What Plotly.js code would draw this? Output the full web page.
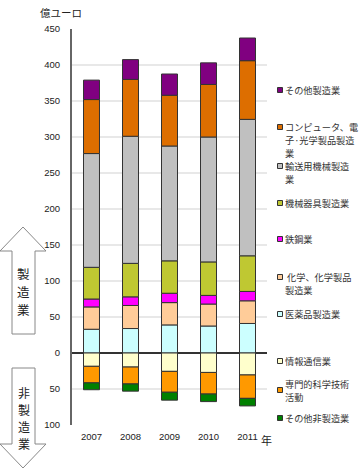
<!DOCTYPE html>
<html><head><meta charset="utf-8">
<script src="https://cdn.plot.ly/plotly-3.0.1.min.js"></script>
<style>html,body{margin:0;padding:0;background:#fff}#chart{width:360px;height:474px}</style>
</head><body><div id="chart"></div>
<script>
const years = ['2007','2008','2009','2010','2011'];
// 製造業 (positive, bottom to top)
const pharma    = [33, 34, 39, 37.5, 41];
const chemical  = [31, 32, 31, 30.5, 31.5];
const steel     = [11, 12, 13, 12, 13];
const machinery = [44, 46.5, 45, 46.5, 49.5];
const transport = [158, 176.5, 159.5, 173.5, 189.5];
const computer  = [75, 79, 70.5, 73, 81.5];
const otherMfg  = [27, 27.5, 29.5, 30, 31.5];
// 非製造業 (negative, top to bottom)
const infoComm  = [-18.5, -19.5, -25.5, -27, -30.5];
const profSci   = [-23, -23.5, -29, -30, -32.5];
const otherNon  = [-9.5, -10, -11, -10.5, -10.5];

const seriesNames = ['医薬品製造業','化学、化学製品製造業','鉄鋼業','機械器具製造業','輸送用機械製造業','コンピュータ、電子·光学製品製造業','その他製造業','情報通信業','専門的科学技術活動','その他非製造業'];
const seriesData = [pharma, chemical, steel, machinery, transport, computer, otherMfg, infoComm, profSci, otherNon];
const seriesColors = ['#CCFFFF','#FFCC99','#FF00FF','#BFC832','#C0C0C0','#DD6E00','#800080','#FFFFCC','#FF9900','#008000'];

const yTickVals = [-100,-50,0,50,100,150,200,250,300,350,400,450];
const yTickText = ['100','50','0','50','100','150','200','250','300','350','400','450'];

// legend labels, split into display lines (top to bottom)
const legLabels = [['その他製造業'],['コンピュータ、電','子·光学製品製造','業'],['輸送用機械製造','業'],['機械器具製造業'],['鉄鋼業'],[' 化学、化学製品','製造業'],['医薬品製造業'],['情報通信業'],['専門的科学技術','活動'],['その他非製造業']];
const legIdx = [6,5,4,3,2,1,0,7,8,9];
const mfgChars = ['製','造','業'];
const nonMfgChars = ['非','製','造','業'];

const FONT = 'Liberation Sans, Arial, "Noto Sans CJK JP", sans-serif';
const JFONT = '"Noto Sans CJK JP", "Liberation Sans", sans-serif';

const traces = seriesData.map((d,i)=>({
  type:'bar', x: years, y: d, name: seriesNames[i],
  marker:{color: seriesColors[i], line:{color:'#333', width:1}},
  width: 0.41, hoverinfo:'none'
}));

// pixel -> paper helpers (plot area: x 72..267, y 29..425)
const PL=72, PR=267, PT=29, PB=425;
const px = p => (p-PL)/(PR-PL);
const py = p => (PB-p)/(PB-PT);

const legY = [90,127,166,203,239,277,314,361,384,418];
const legMarkY = [90,127,166,203,239,277,314,361,390,418];
const LINE = 13;

const annotations = [];
const shapes = [];
legIdx.forEach((si,k)=>{
  legLabels[k].forEach((ln,j)=>{
    annotations.push({xref:'paper',yref:'paper',x:px(283.5),y:py(legY[k]+j*LINE),xanchor:'left',yanchor:'middle',
      text:ln,showarrow:false,align:'left',font:{family:JFONT,size:9.2,color:'#333'},borderpad:0});
  });
  shapes.push({type:'rect',xref:'paper',yref:'paper',x0:px(277.5),x1:px(282.5),y0:py(legMarkY[k]+2.5),y1:py(legMarkY[k]-2.5),
    fillcolor:seriesColors[si],line:{color:'#333',width:1}});
});

// left arrows
const P = (pts)=> 'M ' + pts.map(p=>px(p[0])+','+py(p[1])).join(' L ') + ' Z';
shapes.push({type:'path',xref:'paper',yref:'paper',path:P([[23,227],[46,251],[35,251],[35,334],[12,334],[12,251],[0,251]]),
  fillcolor:'#fff',line:{color:'#888',width:1}});
shapes.push({type:'path',xref:'paper',yref:'paper',path:P([[12,368],[35,368],[35,444],[46,444],[23,468],[0,444],[12,444]]),
  fillcolor:'#fff',line:{color:'#888',width:1}});

mfgChars.forEach((c,j)=>annotations.push({xref:'paper',yref:'paper',x:px(23.5),y:py(273+j*18),xanchor:'center',yanchor:'middle',
  text:c,showarrow:false,borderpad:0,font:{family:JFONT,size:12.5,color:'#222'}}));
nonMfgChars.forEach((c,j)=>annotations.push({xref:'paper',yref:'paper',x:px(23.5),y:py(392+j*17),xanchor:'center',yanchor:'middle',
  text:c,showarrow:false,borderpad:0,font:{family:JFONT,size:12,color:'#222'}}));

annotations.push({xref:'paper',yref:'paper',x:px(61),y:py(13),xanchor:'center',yanchor:'middle',
  text:'億ユーロ',showarrow:false,font:{family:JFONT,size:10.5,color:'#222'}});
annotations.push({xref:'paper',yref:'paper',x:px(266),y:py(440),xanchor:'center',yanchor:'middle',
  text:'年',showarrow:false,font:{family:JFONT,size:11,color:'#222'}});

const layout = {
  width:360, height:474, margin:{l:PL, r:360-PR, t:PT, b:474-PB},
  paper_bgcolor:'#fff', plot_bgcolor:'#fff',
  barmode:'relative', bargap:0.59, showlegend:false,
  font:{family:FONT, size:10, color:'#222'},
  xaxis:{type:'category', showgrid:false, zeroline:false, showline:false, ticks:'',
    tickfont:{family:FONT,size:9.5,color:'#222'}, ticklabelstandoff:4},
  yaxis:{range:[-100,450], tickvals:yTickVals, ticktext:yTickText,
    showgrid:true, gridcolor:'#e8e8e8', gridwidth:1.5,
    zeroline:true, zerolinecolor:'#333', zerolinewidth:1.5,
    showline:true, linecolor:'#666', linewidth:2, ticks:'',
    tickfont:{family:FONT,size:9.5,color:'#222'}, ticklabelstandoff:8, fixedrange:true},
  annotations, shapes
};
Plotly.newPlot('chart', traces, layout, {staticPlot:true, displayModeBar:false});
</script></body></html>
